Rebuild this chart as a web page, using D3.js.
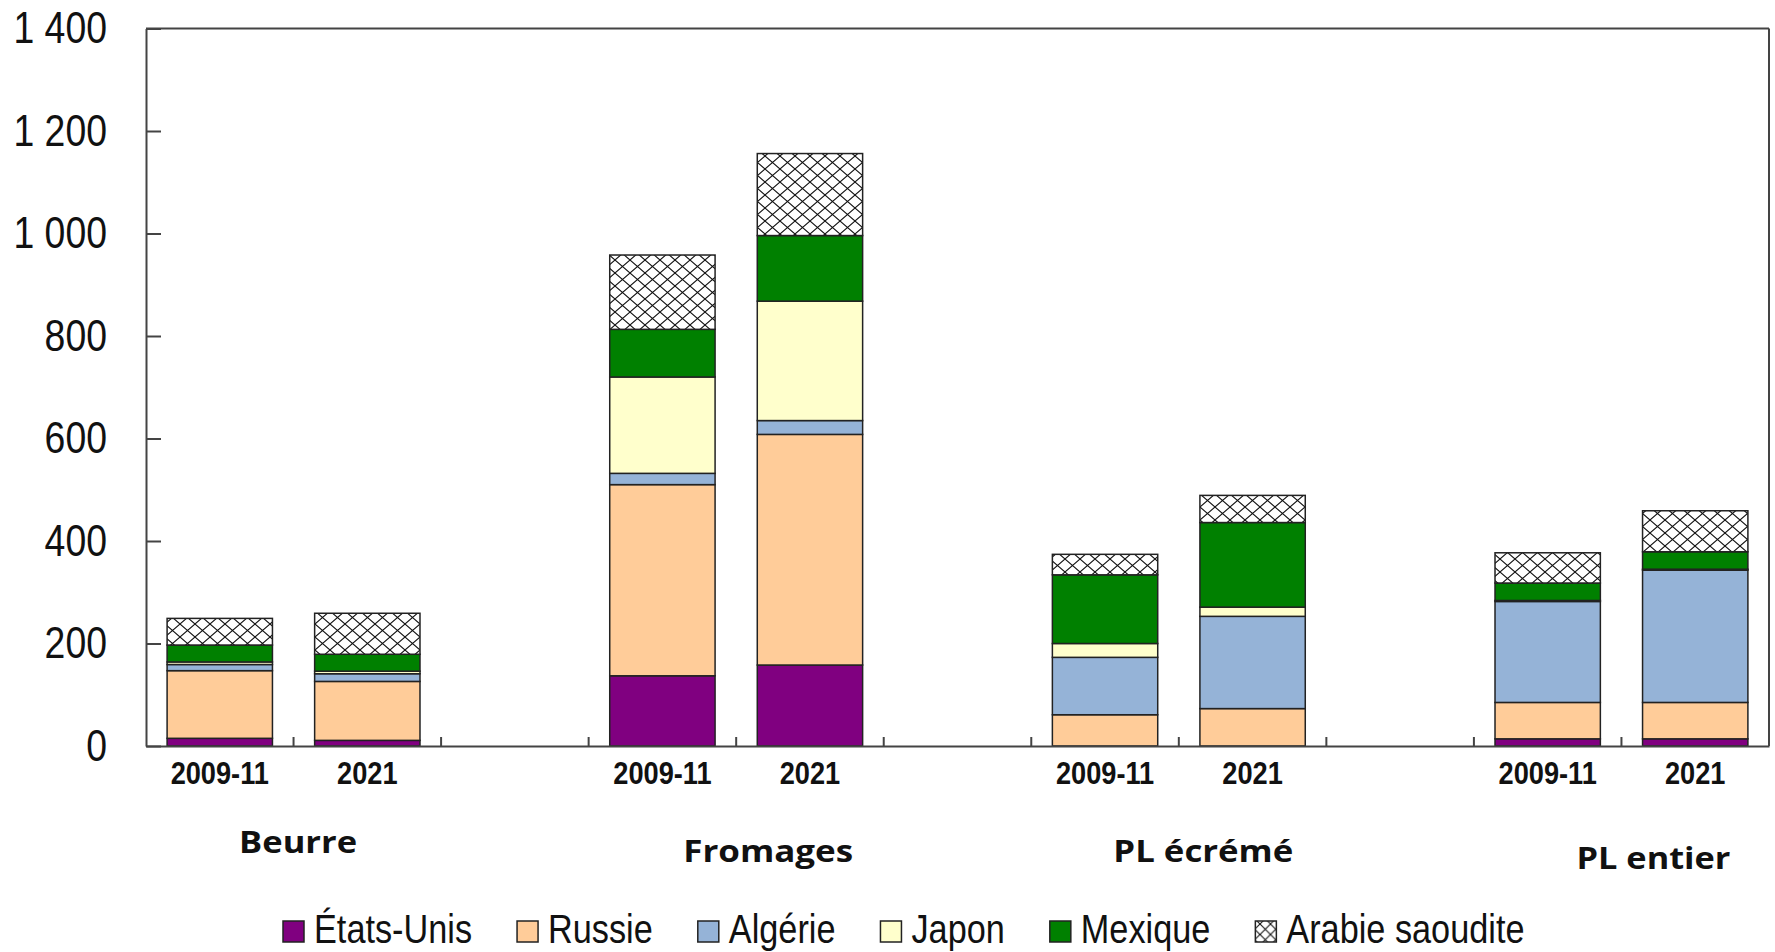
<!DOCTYPE html>
<html>
<head>
<meta charset="utf-8">
<script src="https://cdn.jsdelivr.net/npm/d3@7"></script>
<style>
  html, body { margin: 0; padding: 0; background: #fff; }
  svg { display: block; }
</style>
</head>
<body>
<svg id="chart" width="1775" height="952"></svg>
<script>
// ---- Data ----
const categories = ["Beurre", "Fromages", "PL écrémé", "PL entier"];
const periods = ["2009-11", "2021"];
const seriesNames = ["États-Unis", "Russie", "Algérie", "Japon", "Mexique", "Arabie saoudite"];
// values in bar order: Beurre 09-11, Beurre 21, Fromages 09-11, Fromages 21, PL écrémé 09-11, PL écrémé 21, PL entier 09-11, PL entier 21
const etatsUnis = [15, 11, 137, 158, 0, 0, 14, 14];
const russie    = [132, 115, 373, 450, 61, 73, 71, 71];
const algerie   = [12, 15, 22, 27, 112, 180, 197, 258];
const japon     = [5, 5, 188, 233, 27, 18, 2, 2];
const mexique   = [33, 33, 93, 128, 134, 165, 34, 34];
const arabie    = [52, 80, 145, 160, 40, 53, 59, 80];
const yTicks = [0, 200, 400, 600, 800, 1000, 1200, 1400];

const seriesValues = [etatsUnis, russie, algerie, japon, mexique, arabie];
const seriesColors = ["#800080", "#FFCC99", "#95B3D7", "#FFFFCC", "#008000", "url(#hatch)"];

// ---- Build table ----
const slots = [];
const rows = [];
categories.forEach((c, ci) => {
  periods.forEach((p, pi) => {
    const key = c + "|" + p;
    slots.push(key);
    const row = { key, cat: c, period: p };
    seriesNames.forEach((s, si) => { row[s] = seriesValues[si][ci * periods.length + pi]; });
    rows.push(row);
  });
  if (ci < categories.length - 1) slots.push("gap" + ci);
});

const svg = d3.select("#chart");
const plotLeft = 146, plotRight = 1769, plotTop = 28.5, plotBottom = 746;

const defs = svg.append("defs");
function makeHatch(id, w, h) {
  const p = defs.append("pattern").attr("id", id).attr("patternUnits", "userSpaceOnUse")
    .attr("width", w).attr("height", h);
  p.append("rect").attr("width", w).attr("height", h).attr("fill", "#fff");
  p.append("path").attr("d", `M0,0L${w},${h}M${w},0L0,${h}`).attr("stroke", "#111").attr("stroke-width", 1.1).attr("fill", "none");
}
makeHatch("hatch", 15, 13);
makeHatch("hatchLegend", 10.5, 10.5);

const x = d3.scaleBand().domain(slots).range([plotLeft, plotRight]).padding(0);
const y = d3.scaleLinear().domain([0, 1400]).range([plotBottom, plotTop]);
const barW = x.bandwidth() * 0.714;

const stack = d3.stack().keys(seriesNames);
const stacked = stack(rows);

// Bars
const g = svg.append("g");
stacked.forEach((layer, li) => {
  g.selectAll(null).data(layer).enter().append("rect")
    .attr("x", d => x(d.data.key) + (x.bandwidth() - barW) / 2)
    .attr("y", d => y(d[1]))
    .attr("width", barW)
    .attr("height", d => Math.max(0, y(d[0]) - y(d[1])))
    .attr("fill", seriesColors[li])
    .attr("stroke", d => (d[1] - d[0]) > 0 ? "#222" : "none")
    .attr("stroke-width", 1.5);
});

// Frame (top & right)
svg.append("line").attr("x1", plotLeft).attr("x2", plotRight).attr("y1", plotTop).attr("y2", plotTop)
  .attr("stroke", "#444").attr("stroke-width", 2);
svg.append("line").attr("x1", plotRight).attr("x2", plotRight).attr("y1", plotTop).attr("y2", plotBottom)
  .attr("stroke", "#444").attr("stroke-width", 2);

// Y axis
const fmt = d3.formatLocale({ decimal: ",", thousands: " ", grouping: [3], currency: ["", ""] }).format(",");
const yAxis = svg.append("g").attr("transform", `translate(${plotLeft},0)`)
  .call(d3.axisLeft(y).tickValues(yTicks).tickFormat(fmt).tickSize(-15).tickPadding(40).tickSizeOuter(0));
yAxis.select(".domain").attr("stroke", "#444").attr("stroke-width", 2);
yAxis.selectAll(".tick line").attr("stroke", "#444").attr("stroke-width", 2);
yAxis.selectAll(".tick text")
  .attr("x", 0)
  .attr("transform", "translate(-39,0) scale(0.85,1)")
  .attr("font-family", "'Liberation Sans', Arial, sans-serif")
  .attr("font-size", 44).attr("fill", "#111");

// X axis
const xAxis = svg.append("g").attr("transform", `translate(0,${plotBottom})`)
  .call(d3.axisBottom(x).tickValues(rows.map(r => r.key)).tickFormat(k => k.split("|")[1]).tickSize(0).tickPadding(0).tickSizeOuter(0));
xAxis.select(".domain").attr("stroke", "#444").attr("stroke-width", 2);
xAxis.selectAll(".tick text")
  .attr("y", 0).attr("dy", 0)
  .attr("transform", "translate(0,38) scale(0.85,1)")
  .attr("font-family", "'Liberation Sans', Arial, sans-serif")
  .attr("font-weight", "bold")
  .attr("font-size", 32).attr("fill", "#111");
// boundary ticks
svg.append("g").selectAll("line").data(slots.slice(1)).enter().append("line")
  .attr("x1", d => x(d)).attr("x2", d => x(d))
  .attr("y1", plotBottom).attr("y2", plotBottom - 9)
  .attr("stroke", "#444").attr("stroke-width", 2);

// Category labels
const labelShift = [[4.5, 107], [32, 116], [24.5, 116], [32, 123]];
const labelWidths = [118, 170, 180, 154];
categories.forEach((c, ci) => {
  const k0 = c + "|" + periods[0], k1 = c + "|" + periods[periods.length - 1];
  const cx = (x(k0) + x(k1) + x.bandwidth()) / 2 + labelShift[ci][0];
  const gg = svg.append("g").attr("transform", `translate(${cx},${plotBottom + labelShift[ci][1]})`);
  const t = gg.append("text").attr("text-anchor", "middle")
    .attr("font-family", "'Open Sans', 'DejaVu Sans', sans-serif")
    .attr("font-weight", 700).attr("font-size", 31).attr("fill", "#111").text(c);
  const len = t.node().getComputedTextLength();
  t.attr("transform", `scale(${labelWidths[ci] / len},1)`);
});

// Legend
let lx = 283;
const legendY = 921;
const legendScale = 0.857;
seriesNames.forEach((s, si) => {
  svg.append("rect").attr("x", lx).attr("y", legendY).attr("width", 21).attr("height", 21)
    .attr("fill", si === 5 ? "url(#hatchLegend)" : seriesColors[si])
    .attr("stroke", "#222").attr("stroke-width", 1.5);
  const gg = svg.append("g").attr("transform", `translate(${lx + 31},${legendY + 22}) scale(${legendScale},1)`);
  const t = gg.append("text").attr("font-family", "'Liberation Sans', Arial, sans-serif")
    .attr("font-size", 40).attr("fill", "#111").text(s);
  const w = t.node().getComputedTextLength() * legendScale;
  lx = lx + 31 + w + 45;
});
</script>
</body>
</html>
